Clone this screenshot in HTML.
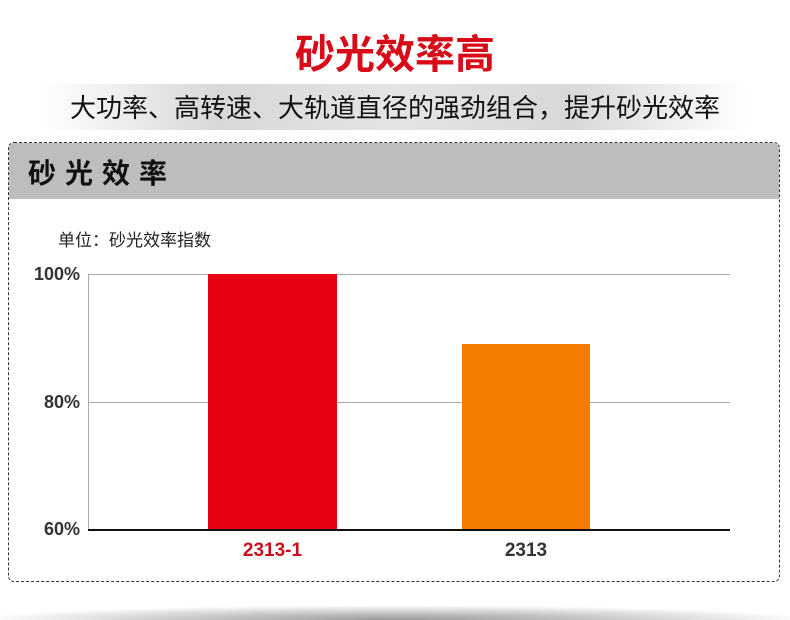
<!DOCTYPE html><html><head><meta charset="utf-8"><style>
body{margin:0;width:790px;height:620px;background:#fff;position:relative;overflow:hidden;font-family:"Liberation Sans","Noto Sans CJK SC",sans-serif}
.a{position:absolute}
</style></head><body>
<div class="a" style="left:0;top:30px;width:790px;text-align:center;font-size:40px;font-weight:bold;color:#d80c18;line-height:50px">砂光效率高</div>
<div class="a" style="left:40px;top:84px;width:710px;height:46px;background:linear-gradient(90deg,rgba(220,220,220,0),#d8d8d8 25%,#e4e4e4 50%,#d8d8d8 75%,rgba(220,220,220,0))"></div>
<div class="a" style="left:0;top:88px;width:790px;text-align:center;font-size:26px;color:#111;line-height:40px">大功率、高转速、大轨道直径的强劲组合，提升砂光效率</div>
<div class="a" style="left:8px;top:142px;width:770px;height:438px;border:1px dashed #333;border-radius:6px;overflow:hidden">
<div style="height:56px;background:#bdbdbd"></div></div>
<div class="a" style="left:28px;top:154px;font-size:28px;font-weight:bold;letter-spacing:9px;color:#111;line-height:40px">砂光效率</div>
<div class="a" style="left:58px;top:226px;font-size:17px;color:#222">单位：砂光效率指数</div>
<div class="a" style="left:88px;top:274px;width:642px;height:1px;background:#aaa"></div>
<div class="a" style="left:88px;top:402px;width:642px;height:1px;background:#aaa"></div>
<div class="a" style="left:88px;top:274px;width:1px;height:256px;background:#aaa"></div>
<div class="a" style="left:208px;top:274px;width:129px;height:256px;background:#e60012"></div>
<div class="a" style="left:462px;top:344px;width:128px;height:186px;background:#f47b00"></div>
<div class="a" style="left:88px;top:529px;width:642px;height:2px;background:#111"></div>
<div class="a" style="left:10px;top:264px;width:70px;text-align:right;font-size:18px;font-weight:bold;color:#333">100%</div>
<div class="a" style="left:10px;top:392px;width:70px;text-align:right;font-size:18px;font-weight:bold;color:#333">80%</div>
<div class="a" style="left:10px;top:519px;width:70px;text-align:right;font-size:18px;font-weight:bold;color:#333">60%</div>
<div class="a" style="left:208px;top:540px;width:129px;text-align:center;font-size:19px;font-weight:bold;color:#c8101c">2313-1</div>
<div class="a" style="left:462px;top:540px;width:128px;text-align:center;font-size:19px;font-weight:bold;color:#333">2313</div>
<div class="a" style="left:0;top:606px;width:790px;height:14px;background:radial-gradient(ellipse at 50% 100%,#999 0%,#ccc 40%,rgba(255,255,255,0) 75%)"></div>
</body></html>
